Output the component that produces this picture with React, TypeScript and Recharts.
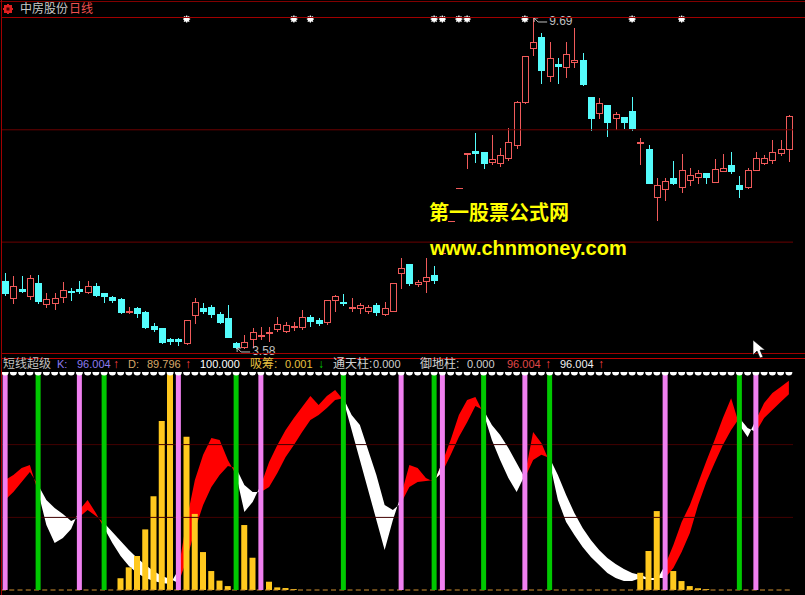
import { ComposedChart, Bar, Line, Area, XAxis, YAxis, ReferenceLine } from 'recharts'

// daily candles, read bar by bar (96 bars)
const opens = [
  4.82, 4.51, 4.67, 4.54, 4.78, 4.39, 4.41, 4.52, 4.64, 4.67,
  4.62, 4.73, 4.6, 4.52, 4.49, 4.25, 4.32, 4.25, 3.99, 3.95,
  3.75, 3.75, 3.67, 4.19, 4.32, 4.34, 4.21, 4.14, 3.67, 3.59,
  3.75, 3.8, 3.86, 3.93, 3.89, 3.97, 3.97, 4.15, 4.1, 4.06,
  4.47, 4.43, 4.32, 4.32, 4.26, 4.38, 4.21, 4.26, 4.97, 5.14,
  4.77, 4.82, 4.93, 5.32, 5.91, 6.52, 7.17, 7.23, 7.21, 7.02,
  7.01, 7.1, 7.34, 8.13, 9.13, 9.34, 8.62, 8.83, 8.78, 8.88,
  8.91, 8.23, 7.93, 8.08, 7.84, 7.86, 7.97, 7.38, 7.26, 6.38,
  6.52, 6.73, 6.56, 6.69, 6.75, 6.82, 6.65, 6.86, 6.97, 6.6,
  6.56, 6.88, 7.01, 7.06, 7.19, 7.26,
]
const highs = [
  4.97, 4.91, 4.91, 4.93, 4.93, 4.6, 4.6, 4.8, 4.69, 4.82,
  4.82, 4.78, 4.6, 4.54, 4.51, 4.34, 4.34, 4.26, 4.04, 3.95,
  3.76, 3.76, 4.1, 4.51, 4.41, 4.38, 4.25, 4.38, 3.69, 3.82,
  3.95, 3.97, 3.97, 4.15, 4.06, 4.06, 4.28, 4.19, 4.14, 4.47,
  4.56, 4.58, 4.51, 4.41, 4.38, 4.41, 4.43, 4.78, 5.25, 5.14,
  4.84, 5.25, 5.1, 5.32, 5.91, 6.52, 7.19, 7.56, 7.21, 7.52,
  7.28, 7.65, 8.15, 8.99, 9.69, 9.41, 9.25, 8.95, 9.25, 9.5,
  9.04, 8.23, 8.21, 8.08, 7.95, 7.86, 8.23, 7.47, 7.34, 6.73,
  6.73, 7.04, 7.17, 6.91, 6.88, 6.82, 7.08, 7.17, 7.21, 6.76,
  6.91, 7.21, 7.15, 7.43, 7.43, 7.89,
]
const lows = [
  4.56, 4.41, 4.62, 4.49, 4.41, 4.34, 4.3, 4.43, 4.47, 4.6,
  4.6, 4.54, 4.43, 4.43, 4.23, 4.23, 4.15, 3.95, 3.89, 3.67,
  3.65, 3.64, 3.65, 4.04, 4.23, 4.15, 4.04, 3.78, 3.58, 3.58,
  3.6, 3.75, 3.71, 3.89, 3.88, 3.91, 3.93, 3.99, 4.01, 4.02,
  4.26, 4.38, 4.26, 4.23, 4.23, 4.19, 4.19, 4.26, 4.69, 4.75,
  4.73, 4.62, 4.78, 5.32, 5.91, 6.52, 6.91, 7.02, 6.91, 6.99,
  6.95, 7.06, 7.28, 8.12, 9.0, 8.49, 8.52, 8.49, 8.6, 8.78,
  8.45, 7.62, 7.84, 7.51, 7.63, 7.65, 7.62, 6.99, 6.63, 5.95,
  6.32, 6.62, 6.47, 6.6, 6.63, 6.63, 6.65, 6.86, 6.82, 6.38,
  6.54, 6.88, 6.99, 7.01, 7.15, 7.04,
]
const closes = [
  4.6, 4.73, 4.64, 4.88, 4.45, 4.49, 4.51, 4.65, 4.62, 4.64,
  4.73, 4.56, 4.54, 4.47, 4.25, 4.26, 4.23, 3.97, 3.93, 3.69,
  3.71, 3.71, 4.1, 4.43, 4.26, 4.21, 4.06, 3.78, 3.6, 3.69,
  3.88, 3.82, 3.88, 4.02, 4.01, 3.99, 4.15, 4.08, 4.04, 4.47,
  4.54, 4.41, 4.34, 4.38, 4.34, 4.25, 4.32, 4.78, 5.06, 4.78,
  4.8, 4.89, 4.84, 5.32, 5.91, 6.52, 7.19, 7.19, 7.01, 7.08,
  7.15, 7.39, 8.13, 8.99, 9.25, 8.73, 8.95, 8.81, 9.02, 8.91,
  8.47, 7.84, 8.12, 7.76, 7.91, 7.76, 7.65, 7.39, 6.63, 6.6,
  6.67, 6.63, 6.88, 6.78, 6.82, 6.75, 6.89, 6.91, 6.86, 6.52,
  6.88, 7.1, 7.1, 7.21, 7.26, 7.88,
]
const days = opens.map((_, i) => i + 1)

// 短线超级 indicator
const kLine = [
  50.5, 52.8, 56.0, 57.3, 45.0, 29.8, 21.6, 23.9, 28.0, 36.7,
  41.3, 35.3, 28.4, 21.6, 15.6, 11.0, 7.8, 5.5, 4.1, 3.2,
  2.8, 9.2, 32.0, 50.5, 62.0, 69.7, 68.8, 59.6, 52.8, 35.8,
  40.4, 48.2, 58.7, 66.5, 73.4, 78.9, 84.0, 89.0, 84.9, 89.0,
  91.7, 87.2, 73.4, 59.6, 45.9, 32.1, 18.3, 32.1, 43.6, 57.3,
  56.0, 51.4, 49.5, 58.7, 68.8, 80.3, 87.2, 88.5, 81.0, 68.8,
  59.6, 51.4, 45.0, 52.8, 72.5, 67.4, 58.7, 41.3, 31.2, 25.2,
  19.7, 15.1, 11.5, 7.8, 5.5, 4.1, 4.1, 5.5, 4.6, 4.6,
  11.5, 20.6, 31.2, 39.0, 49.1, 59.2, 68.8, 78.9, 88.0, 75.7,
  70.2, 78.0, 85.8, 90.4, 93.1, 96.0,
]
const dLine = [
  41.3, 45.0, 49.5, 54.1, 48.2, 41.3, 37.6, 34.9, 31.7, 33.5,
  36.7, 33.9, 30.7, 26.6, 22.5, 18.3, 14.7, 11.5, 8.7, 6.4,
  5.0, 3.2, 13.8, 27.5, 39.0, 47.2, 52.8, 56.9, 56.0, 48.2,
  45.0, 45.0, 47.2, 53.7, 61.0, 66.5, 72.5, 78.0, 80.3, 83.5,
  87.2, 88.0, 80.3, 75.7, 64.2, 52.8, 39.0, 36.7, 39.9, 47.2,
  49.5, 50.0, 50.5, 54.1, 61.9, 70.2, 77.0, 84.4, 82.5, 75.7,
  71.1, 65.1, 58.3, 51.4, 59.6, 62.0, 60.6, 52.8, 43.6, 35.3,
  28.4, 22.9, 18.3, 14.7, 11.9, 9.6, 7.8, 6.9, 5.5, 5.5,
  5.5, 10.1, 17.4, 26.1, 39.0, 49.5, 58.3, 66.5, 73.4, 78.9,
  74.3, 72.5, 78.9, 82.6, 86.2, 89.8,
]
// 吸筹 bars
const absorb = [
  0, 0, 0, 0, 0, 0, 0, 0, 0, 0,
  0, 0, 0, 0, 5.4, 10.4, 15.6, 27.8, 43, 77.5,
  100, 0, 70.3, 34.9, 17.4, 8.7, 4.3, 1.8, 0, 29.8,
  14.8, 0, 3.8, 1.2, 0.9, 0.4, 0, 0, 0, 0,
  0, 0, 0, 0, 0, 0, 0, 0, 0, 0,
  0, 0, 0, 0, 0, 0, 0, 0, 0, 0,
  0, 0, 0, 0, 0, 0, 0, 0, 0, 0,
  0, 0, 0, 0, 0, 0, 0, 7.9, 17.9, 36.2,
  0, 8.7, 4.1, 1.8, 0.8, 0.4, 0, 0, 0, 0,
  0, 0, 0, 0, 0, 0,
]
const topDots = days.map(() => 100) // the 100.000 line

const pinkBars = [0, 9, 21, 31, 48, 53, 63, 80, 91]   // 通天柱
const greenBars = [4, 12, 28, 41, 52, 58, 66, 89]     // 御地柱
const starBars = [22, 35, 37, 52, 53, 55, 56, 63, 76, 82]
const STAR_LEVEL = 9.67
const priceGrid = [7.62, 5.54]
const oscGrid = [33.3, 66.7]

const header: [string, number, string, number][] = [
  ['短线超级', 3, '#c0c0c0', 12],
  ['K:', 57, '#8c7cf0', 11], ['96.004', 77, '#8c7cf0', 11], ['↑', 113, '#ff4040', 12],
  ['D:', 128, '#d8a868', 11], ['89.796', 147, '#d8a868', 11], ['↑', 185, '#ff4040', 12],
  ['100.000', 200, '#ffffff', 11],
  ['吸筹:', 250, '#e8c040', 12], ['0.001', 285, '#e8c040', 11], ['↓', 318, '#00d000', 12],
  ['通天柱:', 333, '#d0d0d0', 12], ['0.000', 373, '#d0d0d0', 11],
  ['御地柱:', 420, '#d0d0d0', 12], ['0.000', 467, '#d0d0d0', 11],
  ['96.004', 507, '#e04848', 11], ['↑', 545, '#ff4040', 12],
  ['96.004', 560, '#f0f0f0', 11], ['↑', 598, '#ff4040', 12],
]

const RED = '#f05a5a'
const CYAN = '#54fcfc'
const FONT = "'Liberation Sans', 'Noto Sans CJK SC', sans-serif"

const lowBar = lows.indexOf(Math.min(...lows))
const highBar = highs.indexOf(Math.max(...highs))

const candleRows = days.map((day, i) => ({
  day,
  open: opens[i], high: highs[i], low: lows[i], close: closes[i],
  range: [lows[i], highs[i]],
  star: starBars.includes(i) ? STAR_LEVEL : null,
  mark: i === lowBar ? lows[i] : i === highBar ? highs[i] : null,
}))

const oscRows = days.map((day, i) => {
  const up = kLine[i] >= dLine[i]
  const prevUp = i > 0 ? kLine[i - 1] >= dLine[i - 1] : up
  return {
    day,
    red: up || prevUp ? [dLine[i], kLine[i]] : null,
    white: !up || !prevUp ? [kLine[i], dLine[i]] : null,
    absorb: absorb[i],
    top: topDots[i],
  }
})

function Candle(props: any) {
  const { x, y, width, height, payload } = props
  if (x == null || y == null) return <g />
  const { open, close, high, low } = payload
  const cx = Math.round(x + width / 2)
  const top = Math.min(y, y + height)
  const h = Math.abs(height)
  const span = high - low
  const py = (p: number) => (span > 0 ? top + ((high - p) / span) * h : top)
  const up = close >= open
  const col = up ? RED : CYAN
  const bTop = Math.round(py(Math.max(open, close)))
  const bBot = Math.round(py(Math.min(open, close)))
  const wTop = Math.round(py(high))
  const wBot = Math.round(py(low))
  return (
    <g>
      <line x1={cx + 0.5} x2={cx + 0.5} y1={wTop} y2={wBot + 1} stroke={col} />
      {bBot - bTop < 1 ? (
        <line x1={cx - 3} x2={cx + 4} y1={bTop + 0.5} y2={bTop + 0.5} stroke={col} />
      ) : up ? (
        <rect x={cx - 2.5} y={bTop + 0.5} width={6} height={bBot - bTop} fill="#000" stroke={col} />
      ) : (
        <rect x={cx - 3} y={bTop} width={7} height={bBot - bTop + 1} fill={col} />
      )}
    </g>
  )
}

function StarDot(p: any) {
  const { cx, cy, value, index } = p
  if (value == null || cx == null || cy == null) return <g key={index} />
  return (
    <g key={index} stroke="#fff" strokeWidth={1.3}>
      <circle cx={cx} cy={cy} r={2} fill="#fff" />
      <line x1={cx - 3.5} x2={cx + 3.5} y1={cy} y2={cy} />
      <line x1={cx} x2={cx} y1={cy - 3.5} y2={cy + 3.5} />
      <line x1={cx - 2.6} x2={cx + 2.6} y1={cy - 2.6} y2={cy + 2.6} />
      <line x1={cx - 2.6} x2={cx + 2.6} y1={cy + 2.6} y2={cy - 2.6} />
    </g>
  )
}

function ExtremeDot(p: any) {
  const { cx, cy, value, index } = p
  if (value == null || cx == null || cy == null) return <g key={index} />
  return (
    <g key={index}>
      <path
        d={`M${cx + 1},${cy} L${cx + 5},${cy + 4} L${cx + 14},${cy + 4} M${cx + 1},${cy} l4,0 M${cx + 1},${cy} l0,4`}
        stroke="#c0c0c0"
        fill="none"
      />
      <text x={cx + 16} y={cy + 4} dominantBaseline="middle" fill="#c0c0c0" fontSize={12} fontFamily={FONT}>
        {value.toFixed(2)}
      </text>
    </g>
  )
}

const abs = (l: number, t: number, w: number, h: number, bg: string): React.CSSProperties => ({
  position: 'absolute', left: l, top: t, width: w, height: h, background: bg,
})

export default function App() {
  return (
    <div style={{ position: 'absolute', left: 0, top: 0, width: 805, height: 595, background: '#000', overflow: 'hidden', fontFamily: FONT }}>
      <div style={{ position: 'absolute', left: 0, top: 0 }}>
        <ComposedChart width={805} height={357} data={candleRows} margin={{ top: 0, right: 12, bottom: 0, left: 1 }}>
          <XAxis dataKey="day" hide />
          <YAxis hide domain={[3.413, 10.023]} allowDataOverflow />
          {priceGrid.map((v) => (
            <ReferenceLine key={v} y={v} stroke="#6a0000" />
          ))}
          <Bar dataKey="range" barSize={6} minPointSize={1} shape={(p: any) => <Candle {...p} />} isAnimationActive={false} />
          <Line dataKey="star" stroke="none" dot={StarDot} activeDot={false} isAnimationActive={false} />
          <Line dataKey="mark" stroke="none" dot={ExtremeDot} activeDot={false} isAnimationActive={false} />
        </ComposedChart>
      </div>

      <div style={{ position: 'absolute', left: 0, top: 358 }}>
        <ComposedChart width={805} height={237} data={oscRows} margin={{ top: 14, right: 12, bottom: 5, left: 1 }}>
          <XAxis dataKey="day" hide />
          <YAxis hide domain={[0, 100]} allowDataOverflow />
          {oscGrid.map((v) => (
            <ReferenceLine key={v} y={v} stroke="#420000" />
          ))}
          <Area type="linear" dataKey="red" fill="#ff0000" fillOpacity={1} stroke="none" dot={false} activeDot={false} isAnimationActive={false} />
          <Area type="linear" dataKey="white" fill="#ffffff" fillOpacity={1} stroke="none" dot={false} activeDot={false} isAnimationActive={false} />
          <Bar dataKey="absorb" barSize={6} fill="#ffc81e" isAnimationActive={false} />
          <ReferenceLine y={0} stroke="#d09030" strokeDasharray="5 3.25" />
          {pinkBars.map((i) => (
            <ReferenceLine key={'p' + i} x={days[i]} stroke="#f080f0" strokeWidth={5} />
          ))}
          {greenBars.map((i) => (
            <ReferenceLine key={'g' + i} x={days[i]} stroke="#00c800" strokeWidth={5} />
          ))}
          <Line dataKey="top" zIndex={1000} stroke="none" dot={{ r: 3.5, fill: '#ffffff', stroke: 'none' }} activeDot={false} isAnimationActive={false} />
        </ComposedChart>
      </div>

      {/* frame lines */}
      <div style={abs(0, 1, 805, 1, '#800000')} />
      <div style={abs(2, 17, 803, 1, '#a00000')} />
      <div style={abs(1, 0, 1, 595, '#a00000')} />
      <div style={abs(2, 353, 803, 1, '#a00000')} />
      <div style={abs(2, 358, 803, 1, '#c00000')} />

      {/* title */}
      <svg style={{ position: 'absolute', left: 3, top: 4 }} width={10} height={10}>
        <rect x={1} y={1} width={8} height={8} fill="#e02020" />
        <rect x={0} y={4} width={10} height={2} fill="#e02020" />
        <rect x={4} y={0} width={2} height={10} fill="#e02020" />
        <rect x={3.5} y={3.5} width={3} height={3} fill="#400000" />
      </svg>
      <div style={{ position: 'absolute', left: 20, top: 2, fontSize: 12, lineHeight: '14px', color: '#c8c8c8' }}>中房股份</div>
      <div style={{ position: 'absolute', left: 69, top: 2, fontSize: 12, lineHeight: '14px', color: '#f05050' }}>日线</div>

      {/* watermark */}
      <div style={{ position: 'absolute', left: 429, top: 200, fontSize: 20, lineHeight: '24px', fontWeight: 700, color: '#ffff00', fontFamily: "'Noto Sans CJK SC', sans-serif" }}>
        第一股票公式网
      </div>
      <div style={{ position: 'absolute', left: 430, top: 238, fontSize: 20, lineHeight: '20px', fontWeight: 700, color: '#ffff00', fontFamily: "'Liberation Sans', sans-serif" }}>
        www.chnmoney.com
      </div>

      {/* indicator header */}
      {header.map(([t, x, c, s], k) => (
        <div key={k} style={{ position: 'absolute', left: x, top: 357, fontSize: s, lineHeight: '14px', color: c, whiteSpace: 'nowrap' }}>
          {t}
        </div>
      ))}

      {/* mouse pointer */}
      <svg style={{ position: 'absolute', left: 750, top: 338 }} width={20} height={22}>
        <path d="M3,2 L3,17 L7,13 L10,20 L13,19 L10,12 L15,12 Z" fill="#fff" stroke="#000" strokeWidth={0.6} />
      </svg>
    </div>
  )
}
